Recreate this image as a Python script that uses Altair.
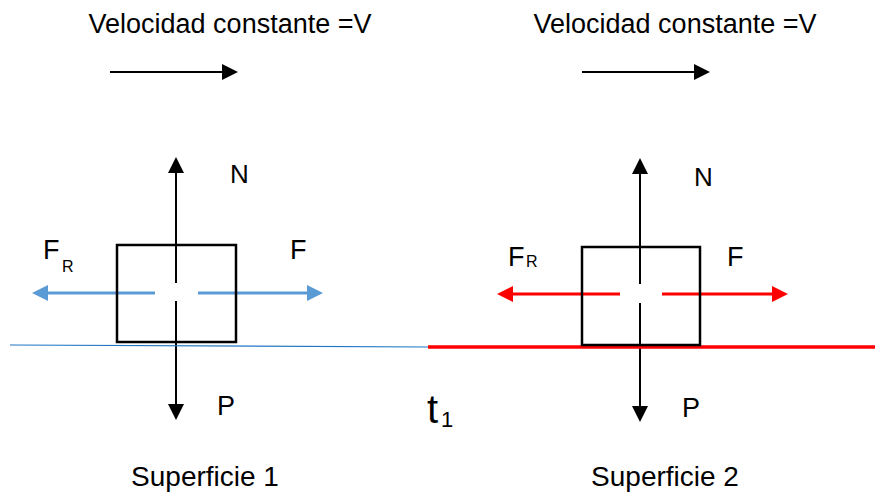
import altair as alt
import pandas as pd

# ---- segments (shafts of arrows, ground lines) ----
seg_x1 = [176, 176, 155, 198, 110, 640, 640, 620, 662, 582, 10, 428]
seg_y1 = [283, 301, 293, 293, 72, 284, 303, 294, 294, 72, 345, 347]
seg_x2 = [176, 176, 42, 313, 228, 640, 640, 507, 778, 700, 428, 883]
seg_y2 = [167, 410, 293, 293, 72, 168, 412, 294, 294, 72, 347, 347]
seg_color = ["#000000", "#000000", "#5B9BD5", "#5B9BD5", "#000000",
             "#000000", "#000000", "#FF0000", "#FF0000", "#000000",
             "#1F77C4", "#FF0000"]
seg_width = [2, 2, 3, 3, 2, 2, 2, 3, 3, 2, 1.2, 3.5]

# ---- arrow heads (tip position + direction) ----
head_x = [176, 176, 32, 323, 238, 640, 640, 497, 788, 710]
head_y = [157, 420, 293, 293, 72, 158, 422, 294, 294, 72]
head_angle = [270, 90, 180, 0, 0, 270, 90, 180, 0, 0]
head_color = ["#000000", "#000000", "#5B9BD5", "#5B9BD5", "#000000",
              "#000000", "#000000", "#FF0000", "#FF0000", "#000000"]

# ---- boxes ----
box_x1 = [117, 582]
box_x2 = [236, 700]
box_y1 = [245, 247]
box_y2 = [342, 345]

# ---- centered texts ----
ctext = ["Velocidad constante =V", "Velocidad constante =V", "Superficie 1", "Superficie 2"]
ctext_x = [230, 675, 205, 665]
ctext_y = [33, 33, 486, 486]
ctext_size = [27, 27, 28, 28]

# ---- left-aligned labels ----
ltext = ["N", "N", "F", "F", "F", "R", "F", "R", "P", "P", "t", "1"]
ltext_x = [230, 694, 290, 727, 43, 62, 508, 526, 217, 682, 427, 441]
ltext_y = [183, 186, 259, 266, 259, 272, 266, 267, 415, 417, 423, 427]
ltext_size = [26, 26, 27, 27, 27, 16, 27, 16, 27, 27, 40, 22]

W, H = 867, 486
xs = alt.Scale(domain=[8, 875], nice=False, zero=False)
ys = alt.Scale(domain=[8, 494], nice=False, zero=False, reverse=True)

segs = pd.DataFrame(dict(x=seg_x1, y=seg_y1, x2=seg_x2, y2=seg_y2, c=seg_color, w=seg_width))
heads = pd.DataFrame(dict(x=head_x, y=head_y, a=head_angle, c=head_color))
boxes = pd.DataFrame(dict(x=box_x1, x2=box_x2, y=box_y1, y2=box_y2))
ct = pd.DataFrame(dict(t=ctext, x=ctext_x, y=ctext_y, s=ctext_size))
lt = pd.DataFrame(dict(t=ltext, x=ltext_x, y=ltext_y, s=ltext_size))

font = "Liberation Sans"

rules = alt.Chart(segs).mark_rule(strokeCap="butt", clip=True).encode(
    x=alt.X("x:Q", scale=xs, axis=None), y=alt.Y("y:Q", scale=ys, axis=None),
    x2="x2:Q", y2="y2:Q",
    color=alt.Color("c:N", scale=None),
    strokeWidth=alt.StrokeWidth("w:Q", scale=None),
)

rects = alt.Chart(boxes).mark_rect(fill=None, stroke="black", strokeWidth=2.5, fillOpacity=0).encode(
    x=alt.X("x:Q", scale=xs, axis=None), x2="x2:Q",
    y=alt.Y("y:Q", scale=ys, axis=None), y2="y2:Q",
)

pts = alt.Chart(heads).mark_point(
    filled=True, shape="M0,0L-2,-1L-2,1Z", size=256, opacity=1, strokeWidth=0
).encode(
    x=alt.X("x:Q", scale=xs, axis=None), y=alt.Y("y:Q", scale=ys, axis=None),
    angle=alt.Angle("a:Q", scale=None),
    color=alt.Color("c:N", scale=None),
)

ctexts = alt.Chart(ct).mark_text(align="center", baseline="alphabetic", font=font, color="black").encode(
    x=alt.X("x:Q", scale=xs, axis=None), y=alt.Y("y:Q", scale=ys, axis=None),
    text="t:N", size=alt.Size("s:Q", scale=None),
)

ltexts = alt.Chart(lt).mark_text(align="left", baseline="alphabetic", font=font, color="black").encode(
    x=alt.X("x:Q", scale=xs, axis=None), y=alt.Y("y:Q", scale=ys, axis=None),
    text="t:N", size=alt.Size("s:Q", scale=None),
)

chart = alt.layer(rules, rects, pts, ctexts, ltexts).properties(
    width=W, height=H, padding=0, autosize=alt.AutoSizeParams(type="none"),
    background="white",
).configure_view(stroke=None)

chart.save("out.html", embed_options={"renderer": "svg", "actions": False})
